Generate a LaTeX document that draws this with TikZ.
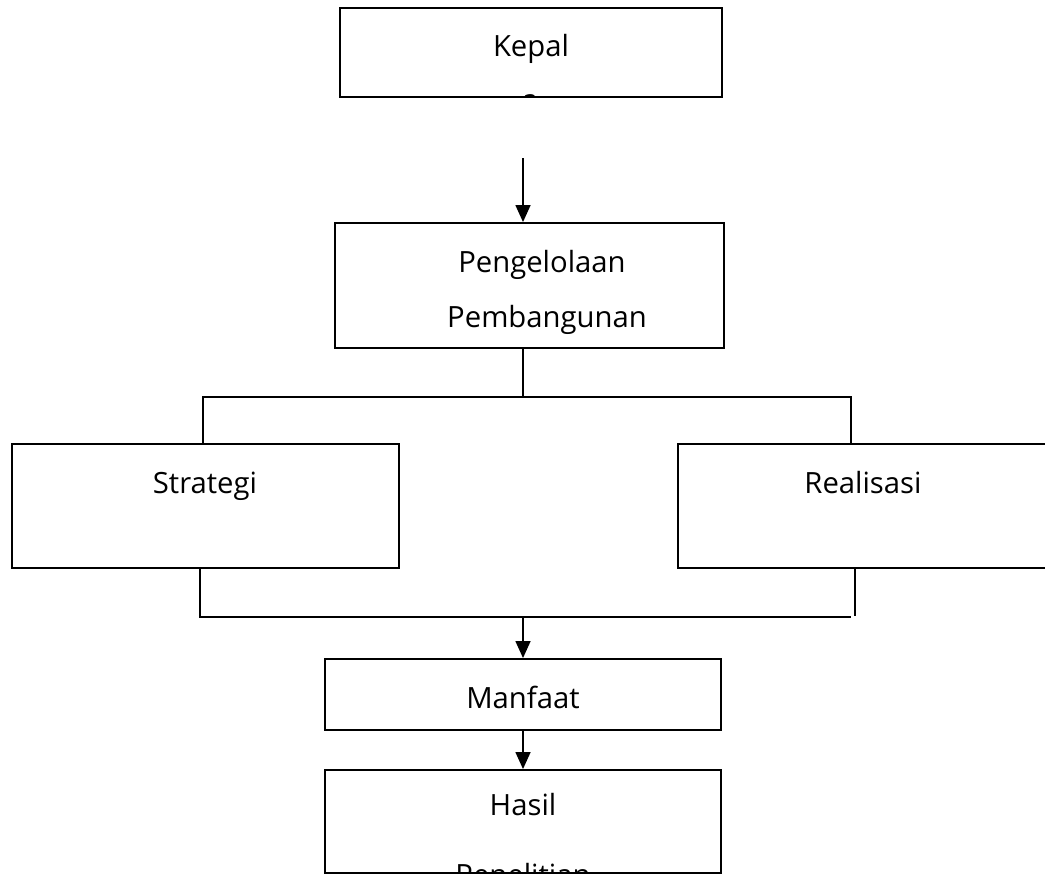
\documentclass[tikz,border=0pt]{standalone}
\usepackage{fontspec}
\setmainfont{Open Sans}
\usetikzlibrary{arrows.meta}
\begin{document}
\begin{tikzpicture}[x=0.025cm, y=-0.025cm, line width=1.3pt,
  box/.style={draw, rectangle, inner sep=0pt},
  txt/.style={anchor=base, inner sep=0pt, font=\fontsize{20.8}{25}\selectfont},
  arr/.style={-{Triangle[length=12pt, width=10.5pt]}}]
\useasboundingbox (0,0) rectangle (1045,874);
\clip (0,0) rectangle (1045,874);
% Boxes
\node[box, minimum width=9.55cm, minimum height=2.225cm] (kep) at (531,52.5) {};
\node[box, minimum width=9.725cm, minimum height=3.125cm] (peng) at (529.5,285.5) {};
\node[box, minimum width=9.675cm, minimum height=3.1cm] (strat) at (205.5,506) {};
\node[box, minimum width=9.3cm, minimum height=3.1cm] (real) at (864,506) {};
\node[box, minimum width=9.9cm, minimum height=1.775cm] (manf) at (523,694.5) {};
\node[box, minimum width=9.9cm, minimum height=2.575cm] (hasil) at (523,821.5) {};

% Texts
\node[txt] (kepT) at (531,57) {Kepal};
\begin{scope}
\clip (kep.south west) rectangle (kep.north east);
\node[txt] (kepT2) at (530,110) {a};
\end{scope}
\node[txt] (pengT) at (542,272) {Pengelolaan};
\node[txt] (pengT2) at (547,327) {Pembangunan};
\node[txt] (stratT) at (205,493) {Strategi};
\node[txt] (realT) at (863,493) {Realisasi};
\node[txt] (manfT) at (523,708) {Manfaat};
\node[txt] (hasilT) at (523,815) {Hasil};
\node[txt] (hasilT2) at (523,885) {Penelitian};

% Connectors
\coordinate (k1) at (523,158);
\coordinate (j1) at (523,397);
\coordinate (sl) at (203,397);
\coordinate (sr) at (851,397);
\coordinate (bl) at (200,617);
\coordinate (br) at (851,617);
\coordinate (br2) at (855,616);
\coordinate (bm) at (523,617);

\draw[arr] (k1) -- (k1 |- peng.north);
\draw (peng.south -| j1) -- (j1);
\draw (sl |- strat.north) -- (sl) -- (sr) -- (sr |- real.north);
\draw (bl |- strat.south) -- (bl) -- (br);
\draw (br2 |- real.south) -- (br2);
\draw[arr] (bm) -- (bm |- manf.north);
\draw[arr] (manf.south) -- (hasil.north);
\end{tikzpicture}
\end{document}
